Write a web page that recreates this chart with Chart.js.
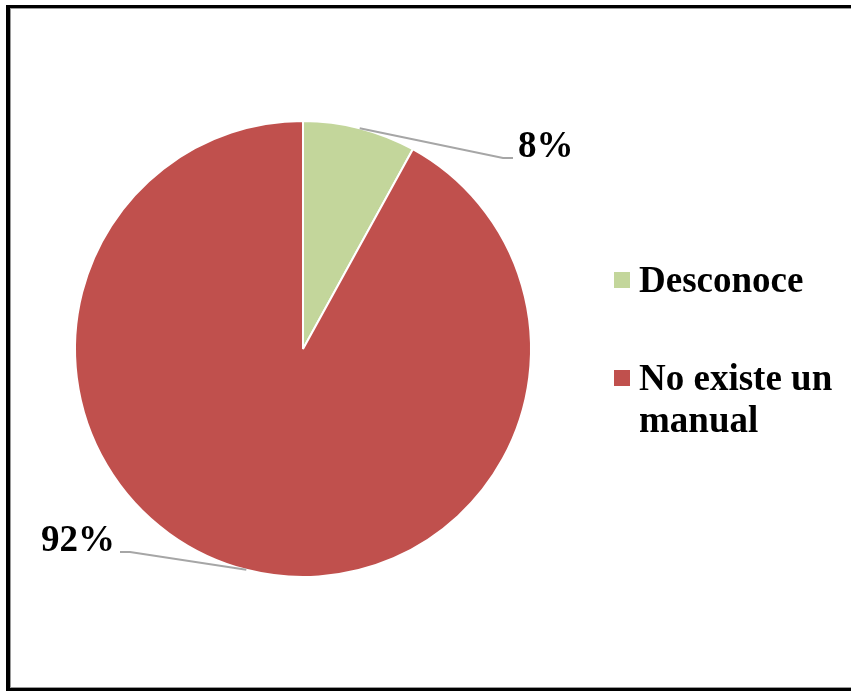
<!DOCTYPE html>
<html>
<head>
<meta charset="utf-8">
<script src="https://cdn.jsdelivr.net/npm/chart.js@4.4.0/dist/chart.umd.min.js"></script>
<style>
  html, body { margin: 0; padding: 0; background: #fff; overflow: hidden; }
  #wrap { position: relative; width: 851px; height: 691px; }
  #frame {
    position: absolute; left: 6px; top: 5px; width: 900px; height: 680px;
    border-left: 4px solid #000; border-top: 3px solid #000; border-bottom: 3px solid #000;
    box-shadow: inset 1px 1px 0 #9a9a9a, inset 0 -1px 0 #9a9a9a;
  }
  canvas { position: absolute; left: 0; top: 0; }
</style>
</head>
<body>
<div id="wrap">
  <div id="frame"></div>
  <canvas id="myChart" width="851" height="691"></canvas>
</div>
<script>
// datos del grafico
const categorias = ['Desconoce', 'No existe un manual']
const valores = [8, 92]
const etiquetas = ['8%', '92%']
const colores = ['#C3D69B', '#C0504D']

// posicion de las etiquetas (codo de la linea guia, relativo al centro)
const codos = [{ dx: 200, dy: -191, lado: 1 }, { dx: -173, dy: 203, lado: -1 }]
const fuente = 'bold 37px "Liberation Serif", "Times New Roman", serif'

// etiquetas con linea guia
const etiquetasPlugin = {
    id: 'etiquetas',
    afterDatasetsDraw(chart) {
        const ctx = chart.ctx
        const meta = chart.getDatasetMeta(0)
        meta.data.forEach((arc, i) => {
            const mid = (arc.startAngle + arc.endAngle) / 2
            const r = arc.outerRadius
            const x0 = arc.x + Math.cos(mid) * r
            const y0 = arc.y + Math.sin(mid) * r
            const x1 = arc.x + codos[i].dx
            const y1 = arc.y + codos[i].dy
            const x2 = x1 + codos[i].lado * 10
            ctx.save()
            ctx.strokeStyle = '#A6A6A6'
            ctx.lineWidth = 2
            ctx.beginPath()
            ctx.moveTo(x0, y0)
            ctx.lineTo(x1, y1)
            ctx.lineTo(x2, y1)
            ctx.stroke()
            ctx.fillStyle = '#000'
            ctx.font = fuente
            ctx.textBaseline = 'alphabetic'
            ctx.textAlign = codos[i].lado > 0 ? 'left' : 'right'
            ctx.fillText(etiquetas[i], x2 + codos[i].lado * 5, y1 - 1)
            ctx.restore()
        })
    }
}

// leyenda a la derecha (con salto de linea)
const leyendaPlugin = {
    id: 'leyenda',
    afterDraw(chart) {
        const ctx = chart.ctx
        const lineas = [['Desconoce'], ['No existe un', 'manual']]
        const ys = [292, 390]
        ctx.save()
        ctx.font = fuente
        ctx.textBaseline = 'alphabetic'
        ctx.textAlign = 'left'
        lineas.forEach((l, i) => {
            ctx.fillStyle = colores[i]
            ctx.fillRect(614, ys[i] - 20, 16, 16)
            ctx.fillStyle = '#000'
            l.forEach((t, j) => ctx.fillText(t, 639, ys[i] + j * 42))
        })
        ctx.restore()
    }
}

const ctx = document.getElementById('myChart')
const grafico = new Chart(ctx, {
    type: 'pie',
    data: {
        labels: categorias,
        datasets: [{
            data: valores,
            backgroundColor: colores,
            borderColor: '#ffffff',
            borderWidth: 2
        }]
    },
    options: {
        responsive: false,
        animation: false,
        layout: { padding: { left: 74, right: 319, top: 120, bottom: 113 } },
        plugins: {
            legend: { display: false },
            tooltip: { enabled: false }
        }
    },
    plugins: [etiquetasPlugin, leyendaPlugin]
})
</script>
</body>
</html>
